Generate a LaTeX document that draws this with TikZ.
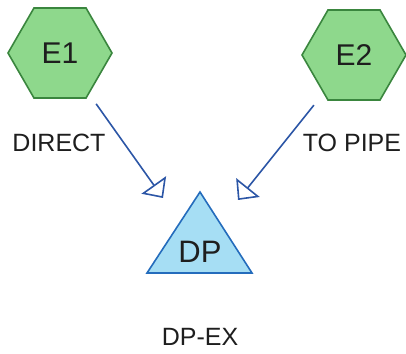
\documentclass[tikz,border=0pt]{standalone}
\usepackage{fontspec}
\setmainfont{Liberation Sans}
\usepackage{tikz}
\usetikzlibrary{arrows.meta, shapes.geometric}
\definecolor{hexfill}{RGB}{142,216,140}
\definecolor{hexline}{RGB}{58,134,62}
\definecolor{dpfill}{RGB}{166,222,244}
\definecolor{dpline}{RGB}{36,108,188}
\definecolor{flowline}{RGB}{44,86,166}
\definecolor{txt}{RGB}{30,30,30}

\begin{document}
\begin{tikzpicture}[x=1pt, y=-1pt,
	hex/.style={regular polygon, regular polygon sides=6, minimum size=104pt, inner sep=0pt,
		fill=hexfill, draw=hexline, line width=1.6pt, text=txt, font=\fontsize{30}{31}\selectfont},
	lbl/.style={anchor=base, text=txt, font=\fontsize{25}{26}\selectfont},
	flow/.style={draw=flowline, line width=1.6pt, -{Triangle[open, length=16pt, width=30pt, fill=white]}}]
	\useasboundingbox (0,0) rectangle (406,353);
	% sources
	\node[hex] (e1) at (60,53) {E1};
	\node[hex] (e2) at (354,55) {E2};
	% target triangle
	\draw[fill=dpfill, draw=dpline, line width=1.6pt] (200,192) -- (252,273) -- (147,273) -- cycle;
	\node[text=txt, anchor=base, font=\fontsize{31}{32}\selectfont] (dp) at (200,262) {DP};
	\coordinate (in1) at (163,198);
	\coordinate (in2) at (238,200);
	\draw[flow, shorten <=12pt] (e1) -- (in1);
	\draw[flow, shorten <=15pt] (e2) -- (in2);
	% labels
	\node[lbl] (direct) at (59,151) {DIRECT};
	\node[lbl] (topipe) at (352,151) {TO PIPE};
	\node[lbl] (dpex) at (200,345) {DP-EX};
\end{tikzpicture}
\end{document}
